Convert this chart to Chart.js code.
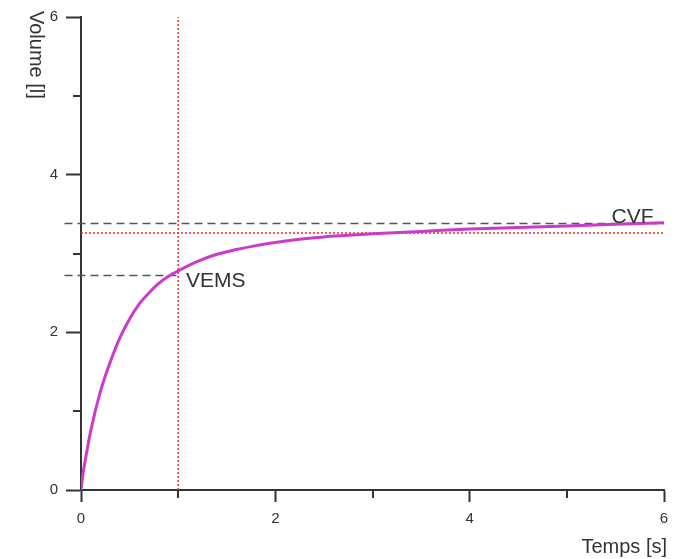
<!DOCTYPE html>
<html>
<head>
<meta charset="utf-8">
<script src="https://cdn.jsdelivr.net/npm/chart.js@4/dist/chart.umd.min.js"></script>
<style>
  html, body { margin: 0; padding: 0; background: #ffffff; }
  #wrap { width: 692px; height: 559px; position: relative; }
</style>
</head>
<body>
<div id="wrap"><canvas id="c" width="692" height="559"></canvas></div>
<script>
// ---- Data ----
const times   = [0, 0.02, 0.05, 0.1, 0.2, 0.3, 0.4, 0.5, 0.6, 0.7, 0.8, 0.9, 1.0, 1.2, 1.4, 1.6, 1.8, 2.0, 2.25, 2.5, 2.75, 3.0, 3.5, 4.0, 4.5, 5.0, 5.5, 6.0];
const volumes = [0, 0.2, 0.42, 0.75, 1.25, 1.62, 1.93, 2.17, 2.36, 2.5, 2.62, 2.71, 2.78, 2.9, 2.99, 3.05, 3.1, 3.14, 3.18, 3.21, 3.23, 3.25, 3.28, 3.31, 3.33, 3.35, 3.37, 3.39];
const xMajorTicks = [0, 2, 4, 6];
const yMajorTicks = [0, 2, 4, 6];
const xMinorTicks = [1, 3, 5];
const yMinorTicks = [1, 3, 5];
const vemsTime = 1;
const vemsVolume = 2.72;
const cvfVolume = 3.38;
const refVolume = 3.26;
const guideStart = -0.17;   // dashed guides start left of the y axis
const labels = { cvf: 'CVF', vems: 'VEMS', x: 'Temps [s]', y: 'Volume [l]' };

const FONT = '"Liberation Sans", Arial, sans-serif';
const AXIS = '#333333';

const curveData = times.map((t, i) => ({ x: t, y: volumes[i] }));

const extras = {
  id: 'extras',
  afterDraw(chart) {
    const ctx = chart.ctx;
    const xs = chart.scales.x, ys = chart.scales.y;
    ctx.save();
    // minor ticks
    ctx.strokeStyle = AXIS;
    ctx.lineWidth = 2;
    xMinorTicks.forEach(v => {
      const px = Math.round(xs.getPixelForValue(v));
      ctx.beginPath();
      ctx.moveTo(px, ys.bottom);
      ctx.lineTo(px, ys.bottom + 8);
      ctx.stroke();
    });
    yMinorTicks.forEach(v => {
      const py = Math.round(ys.getPixelForValue(v));
      ctx.beginPath();
      ctx.moveTo(xs.left, py);
      ctx.lineTo(xs.left - 8, py);
      ctx.stroke();
    });
    // annotations
    ctx.fillStyle = '#333333';
    ctx.font = '21px ' + FONT;
    ctx.textAlign = 'left';
    ctx.textBaseline = 'alphabetic';
    ctx.fillText(labels.cvf, xs.getPixelForValue(5.46), ys.getPixelForValue(cvfVolume) - 1);
    ctx.textBaseline = 'middle';
    ctx.fillText(labels.vems, xs.getPixelForValue(1.08), ys.getPixelForValue(vemsVolume) + 6);
    // axis titles
    ctx.font = '20px ' + FONT;
    ctx.textAlign = 'right';
    ctx.textBaseline = 'alphabetic';
    ctx.fillText(labels.x, xs.right + 3, 553);
    ctx.translate(36, 11);
    ctx.rotate(Math.PI / 2);
    ctx.textAlign = 'left';
    ctx.textBaseline = 'middle';
    ctx.fillText(labels.y, 0, 0);
    ctx.restore();
  }
};

new Chart(document.getElementById('c'), {
  type: 'line',
  data: {
    datasets: [
      {
        data: curveData,
        borderColor: '#cc3acc',
        borderWidth: 3,
        pointRadius: 0,
        cubicInterpolationMode: 'monotone',
        fill: false
      },
      {
        data: [{ x: guideStart, y: cvfVolume }, { x: 6, y: cvfVolume }],
        borderColor: '#555555',
        borderWidth: 1.6,
        borderDash: [8, 5],
        pointRadius: 0,
        clip: false
      },
      {
        data: [{ x: guideStart, y: vemsVolume }, { x: vemsTime, y: vemsVolume }],
        borderColor: '#555555',
        borderWidth: 1.6,
        borderDash: [8, 5],
        pointRadius: 0,
        clip: false
      },
      {
        data: [{ x: 0, y: refVolume }, { x: 6, y: refVolume }],
        borderColor: '#e83a3a',
        borderWidth: 1.6,
        borderDash: [2, 2],
        pointRadius: 0,
        clip: false
      },
      {
        data: [{ x: vemsTime, y: 0 }, { x: vemsTime, y: 6 }],
        borderColor: '#e83a3a',
        borderWidth: 1.6,
        borderDash: [2, 2],
        pointRadius: 0,
        clip: false
      }
    ]
  },
  options: {
    responsive: false,
    animation: false,
    layout: { padding: { top: 17, right: 28, bottom: 0, left: 0 } },
    plugins: { legend: { display: false }, tooltip: { enabled: false } },
    scales: {
      x: {
        type: 'linear',
        min: 0, max: 6,
        afterBuildTicks: s => { s.ticks = xMajorTicks.map(v => ({ value: v })); },
        afterFit: s => { s.height = 69; },
        border: { display: true, color: AXIS, width: 2 },
        grid: { drawOnChartArea: false, drawTicks: true, tickLength: 12, tickColor: AXIS, tickWidth: 2 },
        ticks: { color: '#333333', font: { family: FONT, size: 15 }, padding: 8, maxRotation: 0 }
      },
      y: {
        type: 'linear',
        min: 0, max: 6,
        afterBuildTicks: s => { s.ticks = yMajorTicks.map(v => ({ value: v })); },
        afterFit: s => { s.width = 81; },
        border: { display: true, color: AXIS, width: 2 },
        grid: { drawOnChartArea: false, drawTicks: true, tickLength: 15, tickColor: AXIS, tickWidth: 2 },
        ticks: { color: '#333333', font: { family: FONT, size: 15 }, padding: 8 }
      }
    }
  },
  plugins: [extras]
});
</script>
</body>
</html>
